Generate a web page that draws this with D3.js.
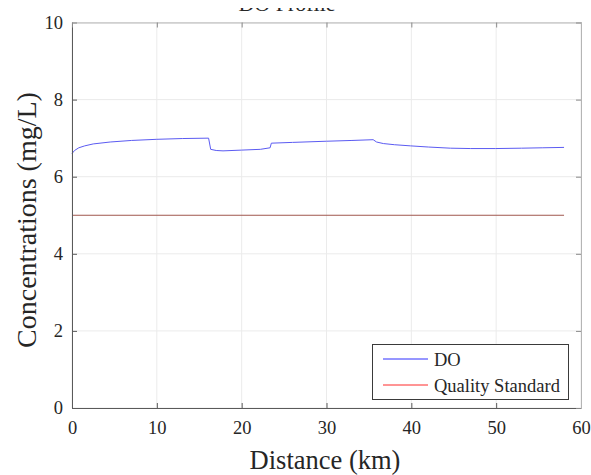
<!DOCTYPE html>
<html>
<head>
<meta charset="utf-8">
<script src="https://cdn.jsdelivr.net/npm/d3@7"></script>
<style>
  html, body { margin: 0; padding: 0; background: #fff; }
  svg { display: block; }
  text { font-family: "Liberation Serif", "DejaVu Serif", serif; fill: #262626; }
</style>
</head>
<body>
<svg id="chart" width="591" height="475"></svg>
<script>
// Dissolved oxygen profile along the river (km, mg/L)
const distanceKm = [0, 0.3, 0.8, 1.5, 2.5, 4.5, 7, 10, 13, 16.1, 16.35, 17, 17.8, 20, 22.2, 23.35, 23.5, 26, 30, 33, 35.5, 35.9, 36.7, 38, 39.9, 42, 44.6, 47, 49.9, 53, 55.5, 58];
const doValues   = [6.60, 6.68, 6.75, 6.80, 6.85, 6.90, 6.94, 6.97, 6.99, 7.00, 6.71, 6.68, 6.67, 6.69, 6.71, 6.75, 6.87, 6.89, 6.92, 6.94, 6.96, 6.90, 6.86, 6.83, 6.80, 6.77, 6.74, 6.73, 6.73, 6.74, 6.75, 6.76];

// Water quality standard for DO
const standardKm = [0, 58];
const standardValues = [5, 5];

const xTicks = [0, 10, 20, 30, 40, 50, 60];
const yTicks = [0, 2, 4, 6, 8, 10];
const seriesNames = ["DO", "Quality Standard"];
const seriesColors = ["#5b5bf2", "#a0574e"];
const legendColors = ["#2f2fff", "#ff2a2a"];

const svg = d3.select("#chart");
const W = 591, H = 475;

const x = d3.scaleLinear().domain([0, 60]).range([72, 581]);
const y = d3.scaleLinear().domain([0, 10]).range([408, 22.5]);

// grid
const grid = svg.append("g");
grid.selectAll("line.gx").data(xTicks).join("line")
  .attr("x1", d => x(d)).attr("x2", d => x(d))
  .attr("y1", y(0)).attr("y2", y(10))
  .attr("stroke", "#ebebeb").attr("stroke-width", 1);
grid.selectAll("line.gy").data(yTicks).join("line")
  .attr("x1", x(0)).attr("x2", x(60))
  .attr("y1", d => y(d)).attr("y2", d => y(d))
  .attr("stroke", "#ebebeb").attr("stroke-width", 1);

// data lines
const line = d3.line().x(d => x(d[0])).y(d => y(d[1]));
svg.append("path")
  .datum(standardKm.map((k, i) => [k, standardValues[i]]))
  .attr("d", line).attr("fill", "none")
  .attr("stroke", seriesColors[1]).attr("stroke-width", 1);
svg.append("path")
  .datum(distanceKm.map((k, i) => [k, doValues[i]]))
  .attr("d", line).attr("fill", "none")
  .attr("stroke", seriesColors[0]).attr("stroke-width", 1);

// axes (box with inward ticks)
const axisColor = "#5a5a5a";
const xAxis = svg.append("g").attr("transform", `translate(0,${y(0)})`)
  .call(d3.axisBottom(x).tickValues(xTicks).tickSizeInner(-5).tickSizeOuter(0).tickPadding(13));
const yAxis = svg.append("g").attr("transform", `translate(${x(0)},0)`)
  .call(d3.axisLeft(y).tickValues(yTicks).tickSizeInner(-5).tickSizeOuter(0).tickPadding(9));
const xTop = svg.append("g").attr("transform", `translate(0,${y(10)})`)
  .call(d3.axisTop(x).tickValues(xTicks).tickSizeInner(-5).tickSizeOuter(0).tickFormat(""));
const yRight = svg.append("g").attr("transform", `translate(${x(60)},0)`)
  .call(d3.axisRight(y).tickValues(yTicks).tickSizeInner(-5).tickSizeOuter(0).tickFormat(""));

[xAxis, yAxis].forEach(g => {
  g.select(".domain").attr("stroke", axisColor);
  g.selectAll(".tick line").attr("stroke", axisColor);
  g.selectAll(".tick text").attr("font-size", 18.5).attr("fill", "#333");
});
[xTop, yRight].forEach(g => {
  g.select(".domain").attr("stroke", "#b5b5b5");
  g.selectAll(".tick line").attr("stroke", "#8a8a8a");
});

// axis titles
svg.append("text")
  .attr("x", 325).attr("y", 469)
  .attr("text-anchor", "middle").attr("font-size", 26.5)
  .text("Distance (km)");
svg.append("text")
  .attr("transform", `translate(36,220) rotate(-90)`)
  .attr("text-anchor", "middle").attr("font-size", 28)
  .text("Concentrations (mg/L)");

// title, mostly outside the top of the frame
svg.append("defs").append("clipPath").attr("id", "titleClip")
  .append("rect").attr("x", 0).attr("y", 8).attr("width", W).attr("height", 6);
svg.append("text")
  .attr("clip-path", "url(#titleClip)")
  .attr("x", 287).attr("y", 10.5)
  .attr("text-anchor", "middle").attr("font-size", 22)
  .text("DO Profile");

// legend
const lg = svg.append("g");
lg.append("rect").attr("x", 372.5).attr("y", 344.5).attr("width", 196).attr("height", 55)
  .attr("fill", "#fff").attr("stroke", "#3a3a3a").attr("stroke-width", 1);
seriesNames.forEach((name, i) => {
  const yy = 359 + i * 26;
  lg.append("line").attr("x1", 383).attr("x2", 428).attr("y1", yy).attr("y2", yy)
    .attr("stroke", legendColors[i]).attr("stroke-width", 1);
  lg.append("text").attr("x", 434).attr("y", yy + 6.5).attr("font-size", 18.5).text(name);
});
</script>
</body>
</html>
